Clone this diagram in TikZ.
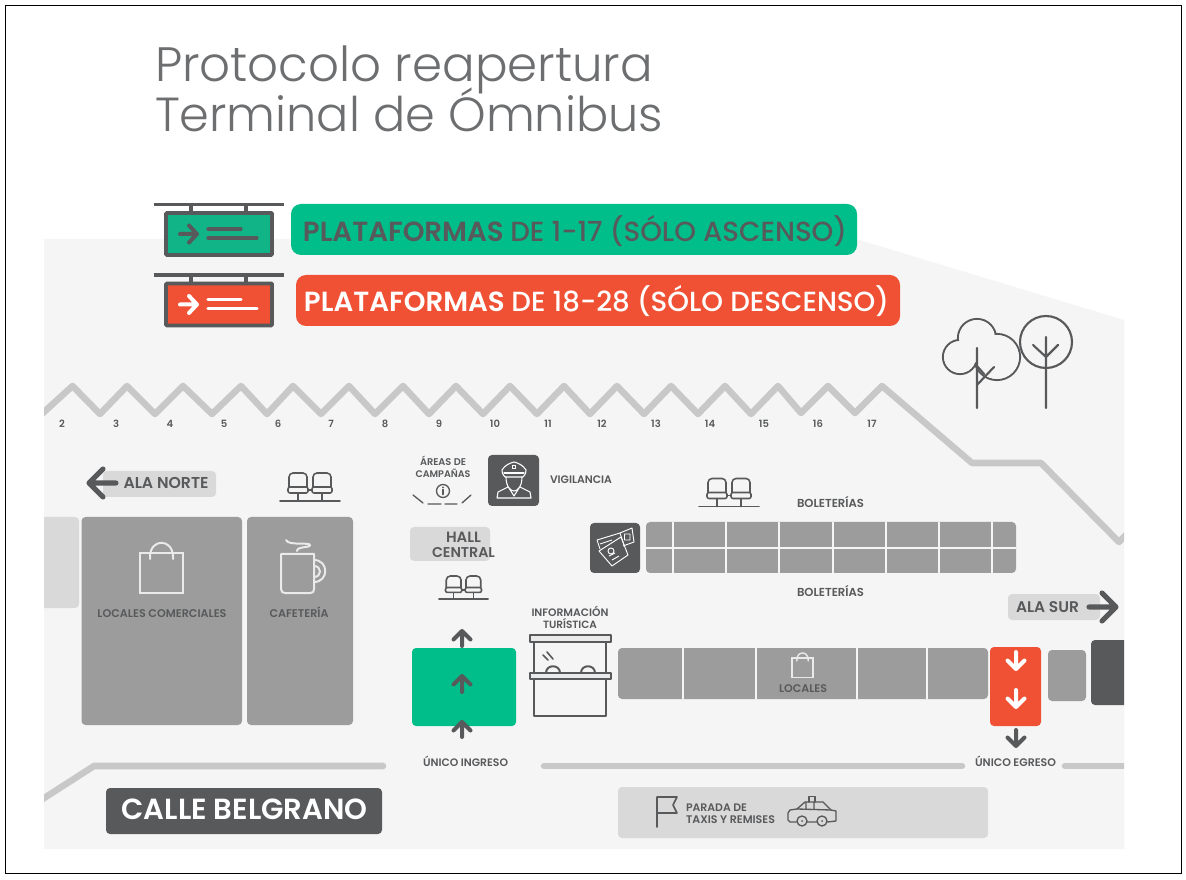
\documentclass[tikz,border=0pt]{standalone}
\usepackage{fontspec}
\usepackage{graphicx}
\setmainfont{Poppins}[UprightFont=* Medium,BoldFont=* SemiBold]
\newfontfamily\lightf{Poppins Light}
\definecolor{dk}{HTML}{58595B}
\definecolor{ttl}{HTML}{6D6E70}
\definecolor{grn}{HTML}{00BE8A}
\definecolor{grs}{HTML}{10B486}
\definecolor{org}{HTML}{F05033}
\definecolor{bgf}{HTML}{F5F5F5}
\definecolor{blk}{HTML}{9C9C9C}
\definecolor{lbl}{HTML}{D9D9D9}
\definecolor{wallc}{HTML}{C8C8C8}
\definecolor{icn}{HTML}{EAEAEA}
\newlength\pxu \setlength\pxu{0.75pt}
\newcommand\tw[2]{\resizebox{#1\pxu}{!}{#2}}
% \lab[colour]{name}{x,baseline y}{width}{text}
\newcommand\lab[5][dk]{\node[txt,text=#1,yshift=-0.75pt] (#2) at (#3) {\tw{#4}{\bfseries #5}};}
\newcommand\uparr[5]{\draw[arr,#5] (#1,#2)--(#1,#3) (#1-#4,#3+#4)--(#1,#3)--(#1+#4,#3+#4);}
\newcommand\dnarr[5]{\draw[arr,#5] (#1,#2)--(#1,#3) (#1-#4,#3-#4)--(#1,#3)--(#1+#4,#3-#4);}
\newcommand\seats[3]{\begin{scope}[shift={(#1,#2)},scale=#3]
 \draw[icon,dk] (-30,0)--(30,0) (-12,0)--(-12,-8) (12,0)--(12,-8) (-2,-11)--(2,-11);
 \foreach \s in {-12,12}{
  \draw[icon,dk,rounded corners=3pt] (\s-9,-14)--(\s-9,-28)--(\s+9,-28)--(\s+9,-14);
  \draw[icon,dk,rounded corners=1.5pt] (\s-10,-14) rectangle (\s+10,-8);}
 \end{scope}}
\newcommand\bag[4][1]{\begin{scope}[shift={(#2,#3)},scale=#4]
 \draw[icon,icn,line width=#1*1.5pt,line join=miter] (0,0) rectangle (43,40);
 \draw[icon,icn,line width=#1*1.5pt] (10,6)--(10,4) .. controls (10,-15) and (33,-15) .. (33,4)--(33,6);
 \end{scope}}
\newcommand\sign[3]{\begin{scope}[yshift=#1*-0.75pt]
 \draw[line width=2.7pt,dk] (153.5,204.5)--(284,204.5) (191,204)--(191,213) (246,204)--(246,213);
 \draw[line width=2.7pt,dk,fill=#2,rounded corners=0.6pt] (166,213) rectangle (272,255);
 \draw[arr,#3] (180,234)--(197,234) (189,225.5)--(197,234)--(189,242.5);
 \draw[arr,#3,line width=2.4pt] (208,229)--(241,229) (208,238)--(257,238);
 \end{scope}}
\tikzset{
 txt/.style={anchor=base,inner sep=0pt,outer sep=0pt},
 block/.style={fill=blk,rounded corners=3pt},
 wallline/.style={wallc,line width=4.9pt,line join=round,line cap=round},
 arr/.style={line width=3pt,line cap=round,line join=round},
 icon/.style={line width=1.2pt,line cap=round,line join=round},
 sep/.style={draw=bgf,line width=1.3pt},
}
\begin{document}
\begin{tikzpicture}[x=0.75pt,y=-0.75pt]
\useasboundingbox (0,0) rectangle (1186,880);
\fill[white] (0,0) rectangle (1186,880);
\draw[black,line width=0.7pt] (5,5) rectangle (1181,873);
% floor
\fill[bgf] (44,239)--(856,239)--(1124,320)--(1124,849)--(44,849)--cycle;
% title
\node[txt,anchor=base west,text=ttl] (t1) at (155,82) {\tw{498}{\lightf Protocolo reapertura}};
\node[txt,anchor=base west,text=ttl] (t2) at (155,132) {\tw{508}{\lightf Terminal de Ómnibus}};
% banners
\fill[grn,rounded corners=7.5pt] (291,204) rectangle (857,255);
\fill[org,rounded corners=7.5pt] (296,275) rectangle (900,326);
\lab{b1}{575,240.5}{544}{PLATAFORMAS \mdseries DE 1-17 (SÓLO ASCENSO)}
\lab[white]{b2}{596.5,310.5}{585}{PLATAFORMAS \mdseries DE 18-28 (SÓLO DESCENSO)}
\sign{0}{grs}{dk}
\sign{70.5}{org}{white}
% walls and blocks cut by the plan edge
\begin{scope}
\clip (44,230) rectangle (1124,860);
\draw[wallline] (38,417.5)--(72.5,386)--(100,414)--(127,386)--(155,414)--(183,386)--(212,414)--(241,386)--(267,414)--(293,386)--(321,414)--(349,386)--(375,414)--(403,386)--(429,414)--(456,386)--(483,414)--(510,386)--(537,414)--(564,386)--(590,414)--(617,386)--(644,414)--(671,386)--(698,414)--(725,386)--(751,414)--(778,386)--(801,413)--(828,386)--(855,413)--(882,386)--(972,463)--(1041,463)--(1119,542)--(1130,531);
\draw[wallline] (38,802)--(94,766)--(383,766);
\draw[wallline] (544,766)--(962,766);
\draw[wallline] (1065,766)--(1130,766);
\fill[lbl,rounded corners=3pt] (30,517) rectangle (79,608);
\fill[dk,rounded corners=3pt] (1091,640) rectangle (1140,705);
\end{scope}
% platform numbers
\foreach \n/\x in {2/62,3/116,4/170,5/224,6/278,7/331,8/385,9/439,10/495,11/548,12/602,13/656,14/710,15/764,16/818,17/872}{
 \node[txt,text=dk] (n\n) at (\x,427.5) {\fontsize{7.5}{9}\selectfont\bfseries\n};}
% trees
\begin{scope}[dk,line width=1.6pt,line cap=round]
 \draw (960,357) circle[radius=17];
 \draw (977,338) circle[radius=19];
 \draw (997,357) circle[radius=23];
 \fill[bgf] (960,357) circle[radius=16];
 \fill[bgf] (977,338) circle[radius=18];
 \fill[bgf] (997,357) circle[radius=22];
 \fill[bgf] (965,340) rectangle (990,362);
 \draw (977,348)--(977,408) (977,385)--(994,367) (977,366)--(984,374);
 \draw (1046,342) circle[radius=26];
 \draw (1046,337)--(1046,408) (1033,345)--(1046,357)--(1058,345);
\end{scope}
% Ala norte
\fill[lbl,rounded corners=3pt] (103,471) rectangle (216,497);
\lab{alan}{166,487.5}{85}{ALA NORTE}
\draw[arr,dk,line width=3.8pt] (116,483)--(89,483) (103,469)--(89,483)--(103,497);
\seats{310}{501}{1}
% left blocks
\fill[block] (81.5,517) rectangle (242,725);
\fill[block] (247,517) rectangle (353,725);
\bag{140}{553}{1}
\lab{lc}{162,616.5}{129}{LOCALES COMERCIALES}
\lab{caf}{299,616.5}{59}{CAFETERÍA}
% mug
\begin{scope}[icn,icon,line width=1.5pt]
 \draw (281,554)--(281,589) .. controls (281,592) and (283,593) .. (285,593)--(310,593) .. controls (313,593) and (314,592) .. (314,589)--(314,554)--cycle;
 \draw (314,560) .. controls (329,560) and (329,582) .. (314,582);
 \draw (314,566) .. controls (322,566) and (322,577) .. (314,577);
 \draw (286,540) .. controls (288,546) and (310,542) .. (310,545) .. controls (311,548) and (297,546) .. (297,551);
\end{scope}
% campaign areas
\lab{ar1}{443,464.5}{46}{ÁREAS DE}
\lab{ar2}{443,476.5}{55}{CAMPAÑAS}
\begin{scope}[dk,line width=1pt,line cap=round]
 \draw (443,491) circle[radius=6.5];
 \draw[line width=1.3pt] (443,489.5)--(443,494.5);
 \fill (443,487.3) circle[radius=1];
 \draw (413,495)--(423,503) (428,504)--(441,504) (445,504)--(457,504) (462,503)--(471,495);
\end{scope}
% vigilancia
\fill[dk,rounded corners=3pt] (488,455) rectangle (539,506);
\begin{scope}[white,line width=0.8pt,line join=round,line cap=round]
 \draw (502,470) .. controls (505,465) and (510,463) .. (514,462) .. controls (518,463) and (523,465) .. (526,470) .. controls (526,474) and (524,476) .. (523,477)--(505,477) .. controls (504,476) and (502,474) .. (502,470)--cycle;
 \draw (504,473)--(524,473);
 \draw (506,477) .. controls (506,486) and (510,491) .. (514,491) .. controls (518,491) and (522,486) .. (522,477);
 \draw (508,487)--(498,492)--(497,498)--(531,498)--(530,492)--(520,487);
 \draw (509,488)--(514,496)--(519,488);
 \draw (512.5,465.5) rectangle (515.5,468.5);
\end{scope}
\lab{vig}{581,482.5}{62}{VIGILANCIA}
% hall central
\fill[lbl,rounded corners=3pt] (410,527) rectangle (490,561);
\lab{h1}{463.5,541.5}{35}{HALL}
\lab{h2}{463.5,556.5}{63}{CENTRAL}
\seats{463.5}{599}{0.82}
% tickets
\fill[dk,rounded corners=3pt] (590,523) rectangle (640,573);
\begin{scope}[white,line width=0.7pt,line join=round]
 \draw (620,533)--(632,528)--(634,542)--(623,546);
 \draw (597,540)--(620,533)--(624,545);
 \draw (597,540)--(600,549);
 \draw (599,551)--(621,537)--(628,555)--(612,566)--cycle;
 \draw (611,551) circle[radius=3];
 \draw (609,556)--(615,553) (612,560)--(619,556) (624.5,534) rectangle (630,540);
 \draw (600,544)--(612,540);
\end{scope}
% boleterias
\lab{bo1}{830.5,507}{67}{BOLETERÍAS}
\lab{bo2}{830.5,596}{67}{BOLETERÍAS}
\seats{729}{506.5}{1}
\fill[block] (646,522) rectangle (1016,573);
\foreach \x in {673,726,779,833,886,939,992}{\draw[sep] (\x,522)--(\x,573);}
\draw[sep] (646,548)--(1016,548);
% Ala sur
\fill[lbl,rounded corners=3pt] (1008,594) rectangle (1100,620);
\lab{alas}{1047.5,611.5}{63}{ALA SUR}
\draw[arr,dk,line width=3.8pt] (1089,607)--(1116,607) (1102,593)--(1116,607)--(1102,621);
% entrance
\fill[grn,rounded corners=3pt] (412,648) rectangle (516,726);
\uparr{462}{646}{631}{8.5}{dk}
\uparr{462}{692}{676}{8.5}{dk}
\uparr{462}{737}{722}{8.5}{dk}
\lab{ui}{465.5,765.5}{85}{ÚNICO INGRESO}
% kiosk
\lab{if1}{570,615.5}{77}{INFORMACIÓN}
\lab{if2}{570,627.5}{54}{TURÍSTICA}
\begin{scope}[dk,line width=1.5pt,line join=round,line cap=round]
 \draw (534,642) rectangle (606,716);
 \draw[fill=icn] (530,635) rectangle (611,642);
 \draw (546,673) .. controls (546,664) and (560,664) .. (560,673);
 \draw (581,673) .. controls (581,664) and (595,664) .. (595,673);
 \draw[fill=icn] (530,673) rectangle (611,679);
 \draw[line width=1.2pt] (543,655)--(548,660) (547,652)--(553,659);
\end{scope}
% locales
\fill[block] (618,648) rectangle (988,699);
\foreach \x in {683,756,857,927}{\draw[sep] (\x,648)--(\x,699);}
\bag[0.7]{792}{658}{0.49}
\lab{loc}{803,691.5}{48}{LOCALES}
% exit
\fill[org,rounded corners=3pt] (990,647) rectangle (1041,726);
\dnarr{1016}{652}{669}{8.5}{white}
\dnarr{1016}{690}{707}{8.5}{white}
\dnarr{1016}{730}{746}{8.5}{dk}
\fill[block] (1048,650) rectangle (1086,701);
\lab{ue}{1015.5,765.5}{81}{ÚNICO EGRESO}
% street
\fill[dk,rounded corners=3pt] (106,788) rectangle (382,834);
\lab[white]{cb}{244.5,818.5}{246}{CALLE BELGRANO}
% taxis
\fill[lbl,rounded corners=3pt] (618,787) rectangle (988,838);
\draw[dk,line width=1.2pt,line join=round,line cap=round] (657,827)--(657,797)--(677,797)--(673,805)--(677,813)--(657,813);
\node[txt,anchor=base west,text=dk] (tx1) at (686,811) {\tw{61}{\bfseries PARADA DE}};
\node[txt,anchor=base west,text=dk] (tx2) at (686,823.5) {\tw{89}{\bfseries TAXIS Y REMISES}};
\begin{scope}[dk,line width=1pt,line join=round,line cap=round]
 \draw (802,821) circle[radius=5] (822,821) circle[radius=5];
 \fill (802,821) circle[radius=1] (822,821) circle[radius=1];
 \draw (796.5,822)--(790,822)--(788,820)--(788,813)--(790,810)--(797,809)--(805,802)--(823,802)--(831,810)--(836,811)--(836,821)--(827.5,822);
 \draw (807,822)--(817,822) (797,809)--(831,810) (814,802)--(814,809.5) (806,802)--(806,809);
 \draw (809,802)--(809,796.5)--(815,796.5)--(815,802);
\end{scope}
\end{tikzpicture}
\end{document}
